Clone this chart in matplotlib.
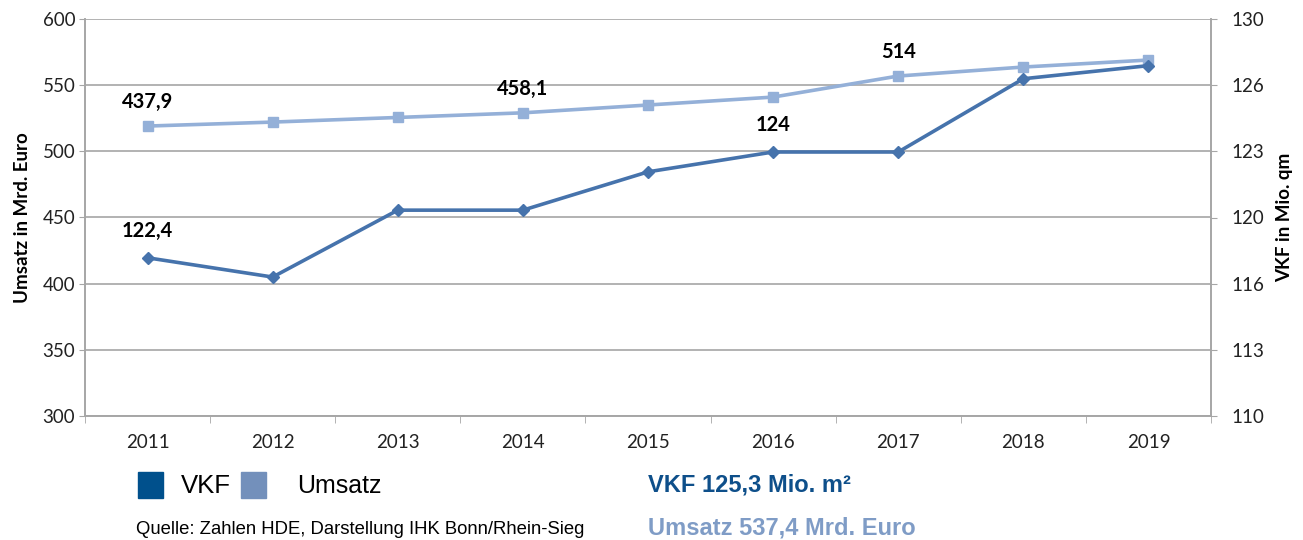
import matplotlib
matplotlib.use("Agg")
import matplotlib.pyplot as plt
import numpy as np
from matplotlib.patches import Rectangle

years = ["2011", "2012", "2013", "2014", "2015", "2016", "2017", "2018", "2019"]
umsatz = [519.1, 522.1, 525.6, 529.1, 535.0, 541.0, 556.9, 563.7, 569.0]
vkf = [117.97, 117.0, 120.37, 120.37, 122.3, 123.3, 123.3, 126.99, 127.65]
left_ticks = [300, 350, 400, 450, 500, 550, 600]
right_ticks_labels = ["110", "113", "116", "120", "123", "126", "130"]

umsatz_labels = {0: "437,9", 3: "458,1", 6: "514"}
vkf_labels = {0: "122,4", 5: "124"}

c_vkf_line = "#4673ac"
c_ums_line = "#94b0d8"
c_vkf_leg = "#00508c"
c_ums_leg = "#7390bb"
grid_c = "#a6a6a6"
chart_font = "Lato"
arial = "Liberation Sans"

fig = plt.figure(figsize=(13.03, 5.40), dpi=100)
ax = fig.add_axes([85/1303, 1-416/540, (1211-85)/1303, (416-19)/540])
ax2 = ax.twinx()

x = np.arange(len(years))

ax.set_ylim(300, 600)
ax.set_xlim(-0.5, len(years)-0.5)
ax2.set_ylim(110, 130)

ax.set_yticks(left_ticks)
ax.set_yticklabels([str(t) for t in left_ticks], fontsize=13.5, family=chart_font, color="#222222")
ax.yaxis.grid(True, color=grid_c, lw=1.2)
ax.set_axisbelow(True)

ax.set_xticks(x)
ax.set_xticklabels(years, fontsize=13.5, family=chart_font, color="#222222")
ax.set_xticks(np.arange(-0.5, len(years)), minor=True)
ax.tick_params(axis="x", which="major", length=0, pad=13)
ax.tick_params(axis="x", which="minor", length=5, color=grid_c, direction="out")
ax.tick_params(axis="y", length=4, color=grid_c, pad=3)

ax2.set_yticks(np.linspace(110, 130, 7))
ax2.set_yticklabels(right_ticks_labels, fontsize=13.5, family=chart_font, color="#222222")
ax2.tick_params(axis="y", length=4, color=grid_c, pad=11)

for a in (ax, ax2):
    a.spines["top"].set_visible(False)
    for s in ["left", "right", "bottom"]:
        a.spines[s].set_color(grid_c)
        a.spines[s].set_linewidth(1.2)

ax.plot(x, umsatz, color=c_ums_line, lw=2.6, marker="s", markersize=7, zorder=3)
ax2.plot(x, vkf, color=c_vkf_line, lw=2.6, marker="D", markersize=6.5, zorder=4)

for i, t in umsatz_labels.items():
    ax.annotate(t, (x[i], umsatz[i]), xytext=(0, 10), textcoords="offset points",
                ha="center", va="bottom", fontsize=14.5, fontweight="bold", family=chart_font)
for i, t in vkf_labels.items():
    ax2.annotate(t, (x[i], vkf[i]), xytext=(0, 12), textcoords="offset points",
                 ha="center", va="bottom", fontsize=14.5, fontweight="bold", family=chart_font)

ax.set_ylabel("Umsatz in Mrd. Euro", fontsize=13.5, fontweight="bold", family=chart_font, labelpad=8)
ax2.set_ylabel("VKF in Mio. qm", fontsize=13.5, fontweight="bold", family=chart_font, labelpad=8)

# Legend
fig.patches.append(Rectangle((138/1303, 1-498/540), 25/1303, 26/540, transform=fig.transFigure,
                             color=c_vkf_leg, figure=fig))
fig.patches.append(Rectangle((241/1303, 1-498/540), 25/1303, 26/540, transform=fig.transFigure,
                             color=c_ums_leg, figure=fig))
fig.text(181/1303, 1-486/540, "VKF", fontsize=18.5, family=arial, va="center", ha="left")
fig.text(297/1303, 1-486/540, "Umsatz", fontsize=18, family=arial, va="center", ha="left")
fig.text(136/1303, 1-529/540, "Quelle: Zahlen HDE, Darstellung IHK Bonn/Rhein-Sieg",
         fontsize=13.3, family=arial, va="center", ha="left")
fig.text(648/1303, 1-485/540, "VKF 125,3 Mio. m²", fontsize=17, fontweight="bold",
         family=arial, color="#0e4f8a", va="center", ha="left")
fig.text(648/1303, 1-528/540, "Umsatz 537,4 Mrd. Euro", fontsize=17, fontweight="bold",
         family=arial, color="#7f9cc6", va="center", ha="left")

fig.savefig("out.png", dpi=100)
